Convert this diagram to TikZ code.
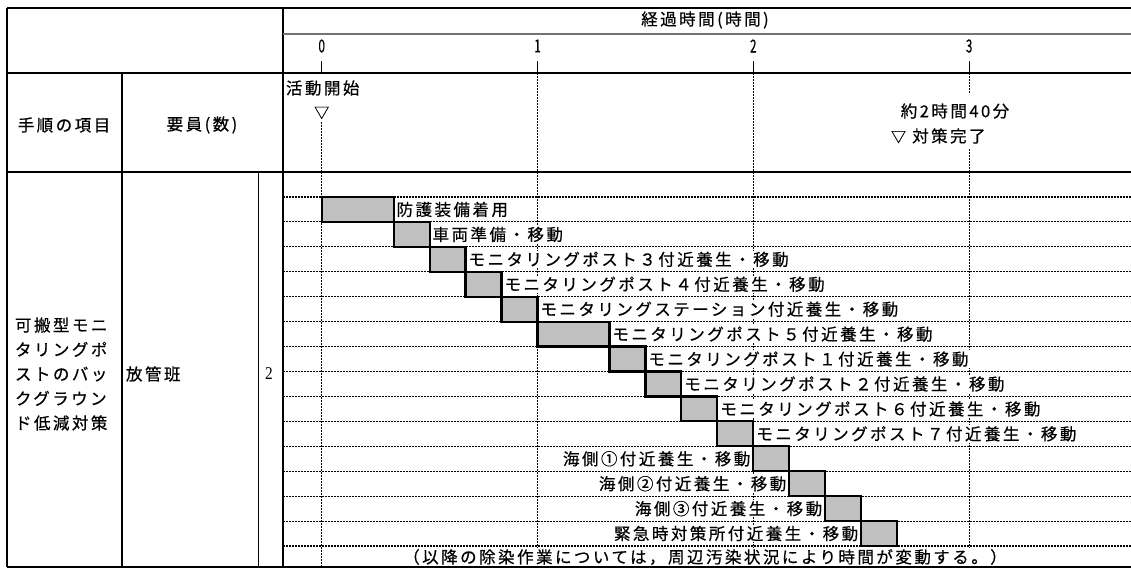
\documentclass[tikz,border=0pt]{standalone}
\usepackage{fontspec}
\usepackage{graphicx}
\setmainfont{Noto Sans CJK JP}
\newfontfamily\jp[LetterSpace=15, FakeBold=0.5]{Noto Sans CJK JP}
\newfontfamily\jpn[FakeBold=0.5]{Noto Sans CJK JP}
\newfontfamily\serifnum{Liberation Serif}
\definecolor{barfill}{RGB}{192,192,192}
\begin{document}
\begin{tikzpicture}[x=1pt,y=-1pt,
  every node/.style={inner sep=0pt, outer sep=0pt},
  txt/.style={font=\jp\fontsize{16.5}{18}\selectfont},
  lab/.style={txt, fill=white, inner xsep=1pt, inner ysep=1pt},
  numtxt/.style={font=\jpn\fontsize{18}{18}\selectfont},
  frame/.style={line width=2.2pt},
  thinline/.style={line width=1pt},
  dots/.style={line width=1.1pt, dash pattern=on 1.5pt off 1.5pt, black},
  bar/.style={draw, line width=2.2pt, fill=barfill, minimum height=24.93pt, inner sep=0pt}]
\useasboundingbox (0,0) rectangle (1131,570);

% time grid (vertical dotted lines)
\foreach \k in {0,1,2,3}{
  \pgfmathsetmacro\xx{321.7+\k*215.8}
  \draw[dots] (\xx,172) -- (\xx,567);
  \draw[thinline] (\xx,61) -- (\xx,73);
  \node[numtxt] (t\k) at (\xx,46) {\scalebox{0.65}[1]{\k}};
}
\draw[dots] (321.7,122) -- (321.7,172);
\draw[dots] (537.5,73) -- (537.5,172);
\draw[dots] (753.3,73) -- (753.3,172);
\draw[dots] (969.1,73) -- (969.1,93);
\draw[dots] (969.1,149) -- (969.1,172);

% horizontal dotted row lines
\foreach \k in {0,...,14}{
  \pgfmathsetmacro\yy{197+\k*24.93}
  \draw[dots] (283,\yy) -- (1131,\yy);
}

% frame
\draw[frame] (7,8) -- (1131,8);
\draw[frame] (7,73) -- (1131,73);
\draw[frame] (7,172) -- (1131,172);
\draw[frame] (7,567) -- (1131,567);
\draw[frame] (7,8) -- (7,567);
\draw[frame] (122,73) -- (122,567);
\draw[frame] (283,8) -- (283,567);
\draw[thinline] (258,172) -- (258,567);
\draw[line width=2pt, black!55] (283,34) -- (1131,34);

% header texts
\node[txt] (elapsed) at (705,20) {経過時間(時間)};
\node[txt, anchor=west] (start) at (286,88) {活動開始};
\node[font=\jpn\fontsize{15}{15}\selectfont] (startmark) at (321.7,113) {▽};
\node[txt] (approx) at (955,111) {約2時間40分};
\node[txt, anchor=west] (done) at (891,136) {\fontsize{15}{15}\selectfont▽\fontsize{16.5}{18}\selectfont\ 対策完了};
\node[txt] (proc) at (64,125) {手順の項目};
\node[txt] (staff) at (202,125) {要員(数)};
\node[txt, align=left, anchor=west, font=\jp\fontsize{16.5}{24.5}\selectfont] (item) at (15,374) {可搬型モニ\\タリングポ\\ストのバッ\\クグラウン\\ド低減対策};
\node[txt, anchor=west] (team) at (126,374) {放管班};
\node[font=\serifnum\fontsize{18}{18}\selectfont] (num) at (269,374) {\scalebox{0.85}[1]{2}};

% bars
\foreach \i/\s/\e in {1/0/20, 2/20/30, 3/30/40, 4/40/50, 5/50/60, 6/60/80, 7/80/90, 8/90/100, 9/100/110, 10/110/120, 11/120/130, 12/130/140, 13/140/150, 14/150/160}{
  \pgfmathsetmacro\xs{321.7+\s*3.5967}
  \pgfmathsetmacro\xw{(\e-\s)*3.5967}
  \pgfmathsetmacro\yc{197+(\i-0.5)*24.93}
  \node[bar, minimum width=\xw pt, anchor=west] (b\i) at (\xs,\yc) {};
}

% labels
\foreach \i/\t in {1/防護装備着用, 2/車両準備・移動, 3/モニタリングポスト３付近養生・移動, 4/モニタリングポスト４付近養生・移動, 5/モニタリングステーション付近養生・移動, 6/モニタリングポスト５付近養生・移動, 7/モニタリングポスト１付近養生・移動, 8/モニタリングポスト２付近養生・移動, 9/モニタリングポスト６付近養生・移動, 10/モニタリングポスト７付近養生・移動}{
  \node[lab, anchor=west] (l\i) at ([xshift=2pt]b\i.east) {\t};
}
\foreach \i/\t in {11/海側①付近養生・移動, 12/海側②付近養生・移動, 13/海側③付近養生・移動, 14/緊急時対策所付近養生・移動}{
  \node[lab, anchor=east] (l\i) at ([xshift=-2pt]b\i.west) {\t};
}

% note
\node[lab] (note) at (705,557) {（以降の除染作業については，周辺汚染状況により時間が変動する。）};
\end{tikzpicture}
\end{document}
